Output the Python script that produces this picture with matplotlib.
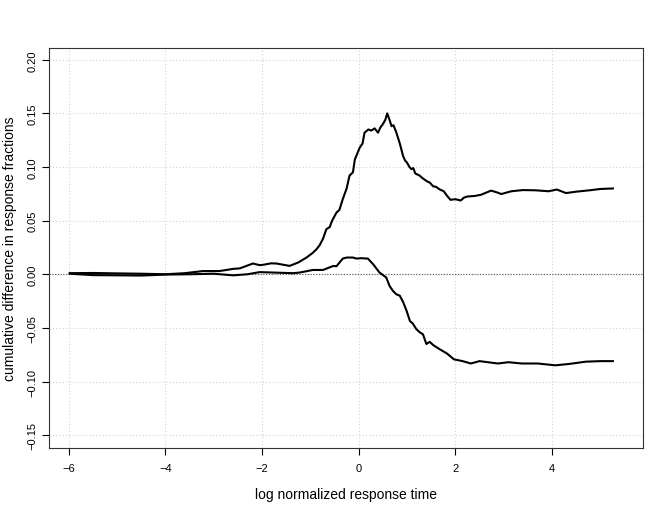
import numpy as np
import matplotlib
matplotlib.use("Agg")
import matplotlib.pyplot as plt

# obere Kurve
upper_x = [-5.98, -5.5, -5.0, -4.5, -4.0, -3.6, -3.22, -2.88, -2.6, -2.46, -2.19, -2.05, -1.98,
           -1.81, -1.70, -1.43, -1.25, -1.08, -0.95, -0.88, -0.81, -0.74, -0.67, -0.60, -0.55,
           -0.46, -0.40, -0.33, -0.25, -0.19, -0.12, -0.08, 0.02, 0.08, 0.12, 0.20, 0.26, 0.33,
           0.40, 0.45, 0.50, 0.55, 0.59, 0.63, 0.68, 0.72, 0.78, 0.85, 0.92, 0.96, 1.00, 1.05,
           1.09, 1.13, 1.17, 1.26, 1.31, 1.37, 1.42, 1.47, 1.54, 1.60, 1.68, 1.76, 1.83, 1.90,
           2.00, 2.11, 2.18, 2.25, 2.40, 2.53, 2.74, 2.85, 2.95, 3.16, 3.40, 3.65, 3.93, 4.10,
           4.29, 4.50, 4.78, 5.00, 5.26]
upper_y = [0.001, 0.0012, 0.0008, 0.0005, 0.0, 0.001, 0.003, 0.003, 0.005, 0.0055, 0.010, 0.0085,
           0.0088, 0.0102, 0.010, 0.0078, 0.011, 0.0156, 0.020, 0.023, 0.027, 0.033, 0.042, 0.044,
           0.050, 0.0575, 0.060, 0.070, 0.080, 0.092, 0.095, 0.107, 0.118, 0.122, 0.132, 0.135,
           0.134, 0.136, 0.132, 0.137, 0.140, 0.144, 0.150, 0.145, 0.138, 0.139, 0.132, 0.122,
           0.110, 0.106, 0.104, 0.100, 0.098, 0.099, 0.094, 0.092, 0.090, 0.088, 0.0865, 0.0855,
           0.082, 0.0815, 0.079, 0.0774, 0.073, 0.0694, 0.070, 0.0688, 0.0715, 0.0725, 0.073,
           0.0741, 0.078, 0.0765, 0.0748, 0.0774, 0.0785, 0.0783, 0.0774, 0.079, 0.0757, 0.077,
           0.0783, 0.0795, 0.080]

# untere Kurve
lower_x = [-5.98, -5.5, -5.0, -4.5, -4.0, -3.5, -3.0, -2.6, -2.3, -2.05, -1.7, -1.36, -1.22,
           -0.95, -0.74, -0.53, -0.46, -0.33, -0.25, -0.12, -0.05, 0.05, 0.19, 0.30, 0.43, 0.57,
           0.64, 0.71, 0.78, 0.85, 0.92, 0.99, 1.06, 1.12, 1.19, 1.26, 1.33, 1.40, 1.47, 1.54,
           1.61, 1.68, 1.83, 1.97, 2.15, 2.32, 2.50, 2.67, 2.88, 3.10, 3.37, 3.70, 4.07, 4.36,
           4.70, 5.00, 5.26]
lower_y = [0.0005, -0.0008, -0.001, -0.0012, -0.0003, 0.0, 0.0005, -0.001, 0.0, 0.002, 0.0015,
           0.001, 0.0016, 0.004, 0.004, 0.0077, 0.0075, 0.0146, 0.0156, 0.0156, 0.0146, 0.015,
           0.0146, 0.0093, 0.0016, -0.003, -0.011, -0.0156, -0.0187, -0.020, -0.026, -0.034,
           -0.0436, -0.046, -0.051, -0.054, -0.056, -0.065, -0.063, -0.066, -0.068, -0.070,
           -0.074, -0.0793, -0.081, -0.0832, -0.081, -0.082, -0.0832, -0.082, -0.0832, -0.0832,
           -0.0849, -0.0836, -0.0815, -0.081, -0.081]

x_ticks = [-6, -4, -2, 0, 2, 4]
y_ticks = [-0.15, -0.10, -0.05, 0.00, 0.05, 0.10, 0.15, 0.20]

plt.rcParams["font.family"] = ["Liberation Sans", "DejaVu Sans"]

fig = plt.figure(figsize=(6.6, 5.1), dpi=100)
ax = fig.add_axes([0.0742, 0.1196, 0.8998, 0.7844])

ax.set_xlim(-6.41, 5.88)
ax.set_ylim(-0.162, 0.211)

# Gitter wie grid() in R
for xt in x_ticks:
    ax.axvline(xt, color="#d3d3d3", linestyle=(0, (1, 2)), linewidth=0.8, zorder=0)
for yt in y_ticks:
    ax.axhline(yt, color="#d3d3d3", linestyle=(0, (1, 2)), linewidth=0.8, zorder=0)
ax.axhline(0, color="#555555", linestyle=(0, (1, 1.5)), linewidth=0.8, zorder=1)

ax.plot(upper_x, upper_y, color="black", linewidth=1.5, zorder=3)
ax.plot(lower_x, lower_y, color="black", linewidth=1.5, zorder=3)

ax.set_xticks(x_ticks)
ax.set_xticklabels([f"\u2212{abs(v)}" if v < 0 else str(v) for v in x_ticks])
ax.set_yticks(y_ticks)
ax.set_yticklabels([f"\u2212{abs(v):.2f}" if v < 0 else f"{v:.2f}" for v in y_ticks],
                   rotation=90, va="center")
ax.tick_params(direction="out", length=5, width=0.8, labelsize=8, pad=6, colors="black")
ax.tick_params(axis="y", pad=3)

for s in ax.spines.values():
    s.set_linewidth(0.8)
    s.set_color("#333333")

ax.set_xlabel("log normalized response time", fontsize=10, labelpad=10)
ax.set_ylabel("cumulative difference in response fractions", fontsize=10)
ax.yaxis.set_label_coords(-0.054, 0.5)

fig.savefig("out.png", dpi=100, facecolor="white")
